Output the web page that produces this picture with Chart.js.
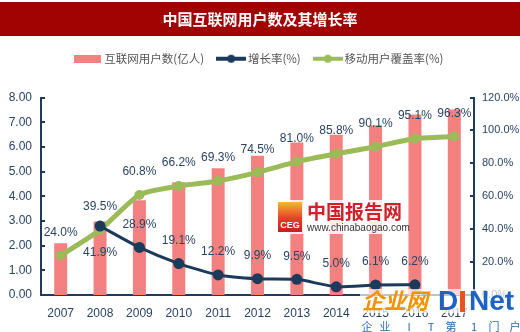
<!DOCTYPE html>
<html>
<head>
<meta charset="utf-8">
<script src="https://cdn.jsdelivr.net/npm/chart.js@4"></script>
<style>
html, body { margin: 0; padding: 0; background: #fff; }
</style>
</head>
<body>
<canvas id="netChart" width="520" height="332"></canvas>
<script>
// data
const years = ['2007', '2008', '2009', '2010', '2011', '2012', '2013', '2014', '2015', '2016', '2017'];
const users = [2.10, 2.98, 3.84, 4.57, 5.13, 5.64, 6.18, 6.49, 6.88, 7.31, 7.51];
const growth = [null, 41.9, 28.9, 19.1, 12.2, 9.9, 9.5, 5.0, 6.1, 6.2, null];
const mobile = [24.0, 39.5, 60.8, 66.2, 69.3, 74.5, 81.0, 85.8, 90.1, 95.1, 96.3];
const leftTicks = [0, 1, 2, 3, 4, 5, 6, 7, 8];
const rightTicks = [0, 20, 40, 60, 80, 100, 120];

const barColor = '#f4817f';
const navy = '#1b3a5c';
const green = '#9bbb59';
const axisColor = '#1f3a60';
const textColor = '#2a4466';
const numFont = "Arial, 'Liberation Sans', sans-serif";
const cjkFont = "'Noto Sans CJK SC', sans-serif";

// legend symbols
function icon(w, h, draw) {
    const c = document.createElement('canvas');
    c.width = w;
    c.height = h;
    draw(c.getContext('2d'));
    return c;
}
const barIcon = icon(27, 8, g => { g.fillStyle = barColor; g.fillRect(0, 0, 27, 8); });
const lineIcon = color => icon(30, 10, g => {
    g.strokeStyle = color;
    g.lineWidth = 4;
    g.beginPath(); g.moveTo(0, 5); g.lineTo(30, 5); g.stroke();
    g.fillStyle = color;
    g.beginPath(); g.arc(15, 5, 4, 0, Math.PI * 2); g.fill();
});
const icons = [barIcon, lineIcon(navy), lineIcon(green)];

// red title band
const titleBand = {
    id: 'titleBand',
    beforeDraw(chart) {
        const t = chart.titleBlock;
        const ctx = chart.ctx;
        ctx.save();
        ctx.fillStyle = '#a10303';
        ctx.fillRect(0, t.top, chart.width, t.height - 1);
        ctx.restore();
    }
};

// percent labels over the two lines
const pointLabels = {
    id: 'pointLabels',
    afterDatasetsDraw(chart) {
        const ctx = chart.ctx;
        ctx.save();
        ctx.font = '12px ' + numFont;
        ctx.fillStyle = textColor;
        ctx.textAlign = 'center';
        ctx.textBaseline = 'middle';
        [1, 2].forEach(di => {
            const values = chart.data.datasets[di].data;
            chart.getDatasetMeta(di).data.forEach((pt, i) => {
                const v = values[i];
                if (v == null) return;
                const below = di === 1 && v > mobile[i];
                ctx.fillText(v.toFixed(1) + '%', pt.x, pt.y + (below ? 27 : -23));
            });
        });
        ctx.restore();
    }
};

// small tick marks pointing into the plot
const innerTicks = {
    id: 'innerTicks',
    afterDraw(chart) {
        const ctx = chart.ctx;
        const area = chart.chartArea;
        ctx.save();
        ctx.strokeStyle = axisColor;
        ctx.lineWidth = 2;
        chart.scales.y.ticks.forEach(t => {
            const py = Math.round(chart.scales.y.getPixelForValue(t.value));
            ctx.beginPath(); ctx.moveTo(area.left, py); ctx.lineTo(area.left + 4, py); ctx.stroke();
        });
        chart.scales.y1.ticks.forEach(t => {
            const py = Math.round(chart.scales.y1.getPixelForValue(t.value));
            ctx.beginPath(); ctx.moveTo(area.right - 4, py); ctx.lineTo(area.right, py); ctx.stroke();
        });
        ctx.restore();
    }
};

// site watermarks from the source picture
const watermarks = {
    id: 'watermarks',
    afterDraw(chart) {
        const ctx = chart.ctx;
        ctx.save();
        ctx.fillStyle = 'rgba(255,255,255,0.85)';
        ctx.fillRect(276, 200, 130, 34);
        const grad = ctx.createLinearGradient(0, 202, 0, 232);
        grad.addColorStop(0, '#f7b733');
        grad.addColorStop(0.55, '#e2412a');
        grad.addColorStop(1, '#c81e1e');
        ctx.fillStyle = grad;
        ctx.fillRect(278, 202, 24, 30);
        ctx.fillStyle = '#fff';
        ctx.font = 'bold 9px Arial';
        ctx.textAlign = 'center';
        ctx.textBaseline = 'middle';
        ctx.fillText('CEG', 290, 226);
        ctx.textAlign = 'left';
        ctx.fillStyle = '#d0202a';
        ctx.font = 'bold 19px ' + cjkFont;
        ctx.fillText('中国报告网', 307, 212);
        ctx.fillStyle = '#333';
        ctx.font = '10px Arial';
        ctx.fillText('www.chinabaogao.com', 307, 228);

        ctx.fillStyle = 'rgba(255,255,255,0.7)';
        ctx.fillRect(360, 289, 160, 24);
        ctx.fillStyle = '#f39200';
        ctx.font = 'italic bold 22px ' + cjkFont;
        ctx.fillText('企业网', 362, 301);
        ctx.fillStyle = '#1e63c4';
        ctx.font = 'bold 28px Arial';
        ctx.fillText('D', 438, 302);
        ctx.fillText('Net', 469, 302);
        ctx.fillStyle = '#e8541c';
        ctx.fillRect(460, 291, 5, 21);
        ctx.fillStyle = '#2a6ab8';
        ctx.font = '11px ' + cjkFont;
        ctx.textAlign = 'center';
        const small = ['企', '业', 'I', 'T', '第', '1', '门', '户'];
        const xs = [367, 385, 409, 431, 451, 474, 494, 515];
        small.forEach((s, i) => ctx.fillText(s, xs[i], 327));
        ctx.restore();
    }
};

new Chart(document.getElementById('netChart').getContext('2d'), {
    data: {
        labels: years,
        datasets: [{
            type: 'bar',
            label: '互联网用户数(亿人)',
            data: users,
            backgroundColor: barColor,
            yAxisID: 'y',
            barPercentage: 0.33,
            categoryPercentage: 1,
            order: 3
        }, {
            type: 'line',
            label: '增长率(%)',
            data: growth,
            borderColor: navy,
            backgroundColor: navy,
            borderWidth: 3,
            pointRadius: 5.5,
            pointBorderWidth: 0,
            tension: 0.2,
            yAxisID: 'y1',
            order: 1
        }, {
            type: 'line',
            label: '移动用户覆盖率(%)',
            data: mobile,
            borderColor: green,
            backgroundColor: green,
            borderWidth: 5,
            pointRadius: 5,
            pointBorderWidth: 0,
            tension: 0.2,
            yAxisID: 'y1',
            order: 2
        }]
    },
    options: {
        responsive: false,
        animation: false,
        layout: { padding: { top: 2, left: 0, right: 0, bottom: 0 } },
        plugins: {
            title: {
                display: true,
                text: '中国互联网用户数及其增长率',
                color: '#fff',
                font: { family: cjkFont, size: 15, weight: 'bold' },
                padding: { top: 8, bottom: 9 }
            },
            subtitle: {
                display: true,
                text: '',
                weight: 500,
                font: { size: 10 },
                padding: { top: 0, bottom: 11 }
            },
            legend: {
                labels: {
                    usePointStyle: true,
                    pointStyleWidth: 22,
                    padding: 16,
                    color: '#555',
                    font: { family: cjkFont, size: 11.5 },
                    sort: (a, b) => a.datasetIndex - b.datasetIndex,
                    generateLabels(chart) {
                        const items = Chart.defaults.plugins.legend.labels.generateLabels(chart);
                        items.forEach(it => { it.pointStyle = icons[it.datasetIndex]; });
                        return items;
                    }
                }
            },
            tooltip: { enabled: false }
        },
        scales: {
            x: {
                grid: { display: false, drawTicks: false },
                border: { display: true, color: axisColor, width: 2 },
                ticks: { color: textColor, font: { family: numFont, size: 12 }, padding: 11 },
                afterFit: s => { s.height = 37; }
            },
            y: {
                position: 'left',
                min: 0,
                max: 8,
                grid: { display: false, drawTicks: false },
                border: { display: true, color: axisColor, width: 2 },
                afterBuildTicks: s => { s.ticks = leftTicks.map(v => ({ value: v })); },
                ticks: {
                    color: textColor,
                    font: { family: numFont, size: 12 },
                    padding: 9,
                    callback: v => v.toFixed(2)
                },
                afterFit: s => { s.width = 41; }
            },
            y1: {
                position: 'right',
                min: 0,
                max: 120,
                grid: { display: false, drawTicks: false },
                border: { display: true, color: axisColor, width: 2 },
                afterBuildTicks: s => { s.ticks = rightTicks.map(v => ({ value: v })); },
                ticks: {
                    color: textColor,
                    font: { family: numFont, size: 11 },
                    padding: 8,
                    callback: v => v.toFixed(1) + '%'
                },
                afterFit: s => { s.width = 46; }
            }
        }
    },
    plugins: [titleBand, pointLabels, innerTicks, watermarks]
});
</script>
</body>
</html>
